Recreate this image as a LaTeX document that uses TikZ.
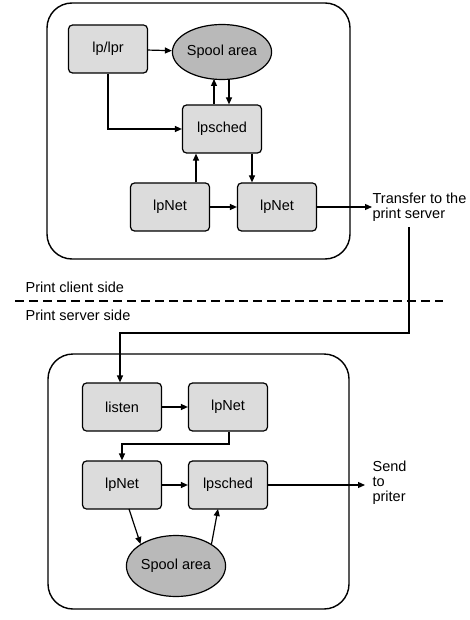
\documentclass[tikz,border=0pt]{standalone}
\usepackage{fontspec}
\setmainfont{Liberation Sans}
\usetikzlibrary{arrows.meta,shapes.geometric}
\definecolor{boxfill}{HTML}{DCDCDC}
\definecolor{ellfill}{HTML}{B9B9B9}
\begin{document}
\begin{tikzpicture}[x=1pt,y=-1pt,
  line width=1.2pt,
  proc/.style={draw, fill=boxfill, rounded corners=4pt, minimum width=79pt, minimum height=48pt, inner sep=0pt, font=\fontsize{14.5}{15}\selectfont},
  spool/.style={draw, fill=ellfill, ellipse, inner sep=0pt, font=\fontsize{14.5}{15}\selectfont},
  container/.style={draw, rounded corners=25pt, line width=1.4pt},
  arr/.style={-{Triangle[length=7pt,width=6pt]}},
  lbl/.style={font=\fontsize{14.5}{15}\selectfont, align=left, inner sep=0pt, anchor=west},
]
\useasboundingbox (0,0) rectangle (470,620);
% containers
\node[container, minimum width=303pt, minimum height=256pt] (top) at (198.5,131) {};
\node[container, minimum width=301pt, minimum height=255pt] (bot) at (198.5,481.5) {};
% top nodes
\node[proc] (lpr) at (108,49) {lp/lpr};
\node[spool, minimum width=99pt, minimum height=55pt] (sp1) at (222,52) {Spool area};
\node[proc] (sch1) at (222,129) {lpsched};
\node[proc] (netA) at (170,207) {lpNet};
\node[proc] (netB) at (277,207) {lpNet};
\node[lbl] (xfer) at (372,207) {Transfer to the\\print server};
% top arrows
\draw[arr] (lpr) -- (sp1);
\draw[arr] (lpr.south) |- (sch1.west);
\draw[arr] (sch1.north -| 214,0) -- (214,79);
\draw[arr] (229,79) -- (sch1.north -| 229,0);
\draw[arr] (netA.north -| 196,0) -- (sch1.south -| 196,0);
\draw[arr] (sch1.south -| 252,0) -- (netB.north -| 252,0);
\draw[arr] (netA) -- (netB);
\draw[arr] (netB) -- (xfer);
% divider
\draw[dashed, dash pattern=on 9pt off 5pt, line width=2.4pt] (15,301) -- (443,301);
\node[lbl, anchor=base west] (cli) at (25,292) {Print client side};
\node[lbl, anchor=base west] (srv) at (25,320) {Print server side};
% bottom nodes
\node[proc] (lis) at (122,407) {listen};
\node[proc] (netC) at (228,407) {lpNet};
\node[proc] (netD) at (122,485) {lpNet};
\node[proc] (sch2) at (228,485) {lpsched};
\node[spool, minimum width=99pt, minimum height=61pt] (sp2) at (176,566) {Spool area};
\node[lbl] (send) at (372,483) {Send\\to\\priter};
% connection between sides
\coordinate (t1) at (409,227);
\draw[arr] (t1) |- (120,333) -- (lis.north -| 120,0);
% bottom arrows
\draw[arr] (lis) -- (netC);
\draw[arr] (netC.south -| 229,0) |- (122,444) -- (netD.north);
\draw[arr] (netD) -- (sch2);
\draw[arr] (129,509) -- (sp2.north west);
\draw[arr] (sp2.north east) -- (218,509);
\draw[arr] (sch2) -- (365,485);
\end{tikzpicture}
\end{document}
